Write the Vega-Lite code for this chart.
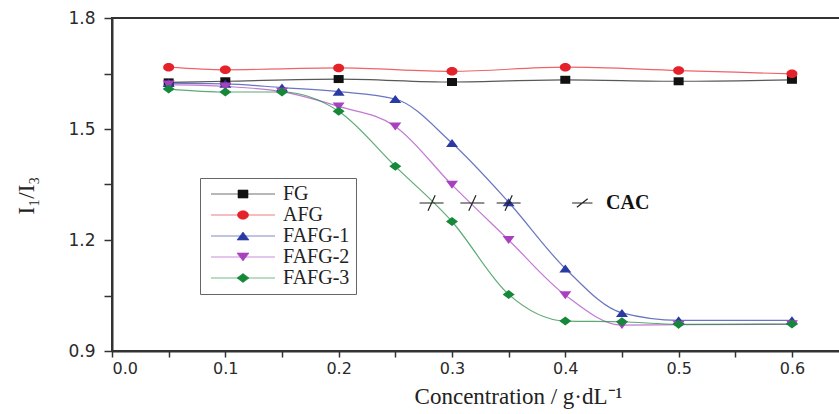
{
  "$schema": "https://vega.github.io/schema/vega-lite/v6.json",
  "width": 728,
  "height": 333,
  "autosize": {"type": "none"},
  "padding": {"left": 112, "top": 18, "right": 0, "bottom": 63},
  "background": "white",
  "config": {
    "view": {"stroke": "#333333", "strokeWidth": 2},
    "axis": {
      "grid": false,
      "domainColor": "#333333",
      "domainWidth": 2,
      "tickColor": "#333333",
      "tickWidth": 1.5,
      "labelFont": "DejaVu Sans",
      "labelFontSize": 16,
      "labelColor": "#2a2a2a",
      "titleFont": "Liberation Serif",
      "titleFontWeight": "normal",
      "titleColor": "#222222"
    }
  },
  "datasets": {
    "series": [
      {"x": 0.05, "y": 1.626, "s": "FG"},
      {"x": 0.1, "y": 1.629, "s": "FG"},
      {"x": 0.2, "y": 1.635, "s": "FG"},
      {"x": 0.3, "y": 1.627, "s": "FG"},
      {"x": 0.4, "y": 1.633, "s": "FG"},
      {"x": 0.5, "y": 1.629, "s": "FG"},
      {"x": 0.6, "y": 1.633, "s": "FG"},
      {"x": 0.05, "y": 1.667, "s": "AFG"},
      {"x": 0.1, "y": 1.66, "s": "AFG"},
      {"x": 0.2, "y": 1.665, "s": "AFG"},
      {"x": 0.3, "y": 1.656, "s": "AFG"},
      {"x": 0.4, "y": 1.667, "s": "AFG"},
      {"x": 0.5, "y": 1.658, "s": "AFG"},
      {"x": 0.6, "y": 1.649, "s": "AFG"},
      {"x": 0.05, "y": 1.624, "s": "FAFG-1"},
      {"x": 0.1, "y": 1.622, "s": "FAFG-1"},
      {"x": 0.15, "y": 1.612, "s": "FAFG-1"},
      {"x": 0.2, "y": 1.601, "s": "FAFG-1"},
      {"x": 0.25, "y": 1.581, "s": "FAFG-1"},
      {"x": 0.3, "y": 1.462, "s": "FAFG-1"},
      {"x": 0.35, "y": 1.302, "s": "FAFG-1"},
      {"x": 0.4, "y": 1.123, "s": "FAFG-1"},
      {"x": 0.45, "y": 1.003, "s": "FAFG-1"},
      {"x": 0.5, "y": 0.983, "s": "FAFG-1"},
      {"x": 0.6, "y": 0.983, "s": "FAFG-1"},
      {"x": 0.05, "y": 1.62, "s": "FAFG-2"},
      {"x": 0.1, "y": 1.615, "s": "FAFG-2"},
      {"x": 0.15, "y": 1.601, "s": "FAFG-2"},
      {"x": 0.2, "y": 1.561, "s": "FAFG-2"},
      {"x": 0.25, "y": 1.507, "s": "FAFG-2"},
      {"x": 0.3, "y": 1.349, "s": "FAFG-2"},
      {"x": 0.35, "y": 1.2, "s": "FAFG-2"},
      {"x": 0.4, "y": 1.051, "s": "FAFG-2"},
      {"x": 0.45, "y": 0.97, "s": "FAFG-2"},
      {"x": 0.5, "y": 0.971, "s": "FAFG-2"},
      {"x": 0.6, "y": 0.972, "s": "FAFG-2"},
      {"x": 0.05, "y": 1.608, "s": "FAFG-3"},
      {"x": 0.1, "y": 1.6, "s": "FAFG-3"},
      {"x": 0.15, "y": 1.6, "s": "FAFG-3"},
      {"x": 0.2, "y": 1.548, "s": "FAFG-3"},
      {"x": 0.25, "y": 1.399, "s": "FAFG-3"},
      {"x": 0.3, "y": 1.25, "s": "FAFG-3"},
      {"x": 0.35, "y": 1.053, "s": "FAFG-3"},
      {"x": 0.4, "y": 0.981, "s": "FAFG-3"},
      {"x": 0.45, "y": 0.979, "s": "FAFG-3"},
      {"x": 0.5, "y": 0.972, "s": "FAFG-3"},
      {"x": 0.6, "y": 0.973, "s": "FAFG-3"}
    ],
    "cac": [
      {"x": 0.282, "y": 1.3, "t": "mark"},
      {"x": 0.318, "y": 1.3, "t": "mark"},
      {"x": 0.35, "y": 1.3, "t": "mark"},
      {"x": 0.415, "y": 1.3, "t": "legend"}
    ],
    "cactext": [
      {"x": 0.436, "y": 1.3, "label": "CAC"}
    ]
  },
  "layer": [
    {
      "data": {"name": "series"},
      "mark": {"type": "line", "interpolate": "monotone", "strokeWidth": 1.2, "strokeOpacity": 0.7},
      "encoding": {
        "x": {"field": "x", "type": "quantitative", "scale": {"domain": [0, 0.6424], "nice": false, "zero": false},
              "axis": {"values": [0, 0.05, 0.1, 0.15, 0.2, 0.25, 0.3, 0.35, 0.4, 0.45, 0.5, 0.55, 0.6],
                       "tickSize": 6, "labelPadding": 3,
                       "labelExpr": "abs(datum.value*10 - round(datum.value*10)) > 0.01 ? '' : format(datum.value, '.1f')",
                       "title": "Concentration / g·dL⁻¹", "titleFontSize": 23,
                       "titleX": 406, "titleY": 52, "titleBaseline": "alphabetic",
                       "encode": {"ticks": {"update": {"y2": {"signal": "abs(datum.value*10 - round(datum.value*10)) > 0.01 ? 3 : 6"}}}}}},
        "y": {"field": "y", "type": "quantitative", "scale": {"domain": [0.9, 1.8], "nice": false, "zero": false},
              "axis": {"values": [0.9, 1.05, 1.2, 1.35, 1.5, 1.65, 1.8], "tickSize": 8, "labelPadding": 9,
                       "labelFontSize": 17,
                       "labelExpr": "abs(datum.value/0.3 - round(datum.value/0.3)) > 0.01 ? '' : format(datum.value, '.1f')",
                       "title": "I₁/I₃", "titleFontSize": 23, "titleAngle": -90,
                       "titleX": -86, "titleY": 177, "titleAlign": "center", "titleBaseline": "middle",
                       "encode": {"ticks": {"update": {"x2": {"signal": "abs(datum.value/0.3 - round(datum.value/0.3)) > 0.01 ? -4 : -8"}}}}}},
        "color": {"field": "s", "type": "nominal",
                  "scale": {"domain": ["FG", "AFG", "FAFG-1", "FAFG-2", "FAFG-3"],
                            "range": ["#111111", "#e5222a", "#2a3aa5", "#a840c0", "#15883a"]},
                  "legend": {
                    "title": null, "orient": "none", "legendX": 88, "legendY": 160,
                    "direction": "vertical",
                    "labelFont": "Liberation Serif", "labelFontSize": 20, "labelColor": "#222222",
                    "symbolSize": 100, "symbolOffset": 27, "labelOffset": 30, "rowPadding": 1,
                    "padding": 6, "strokeColor": "#666666", "fillColor": "white",
                    "encode": {"symbols": {"update": {
                      "shape": {"signal": "datum.value == 'FG' ? 'M-6.4,0H6.4M-1,-0.8H1V0.8H-1Z' : datum.value == 'AFG' ? 'M-6.4,0H6.4M-1.1,0A1.1,0.85 0 1,0 1.1,0A1.1,0.85 0 1,0 -1.1,0Z' : datum.value == 'FAFG-1' ? 'M-6.4,0H6.4M0,-0.8L1.2,0.8H-1.2Z' : datum.value == 'FAFG-2' ? 'M-6.4,0H6.4M0,0.8L1.2,-0.8H-1.2Z' : 'M-6.4,0H6.4M0,-0.9L1.2,0L0,0.9L-1.2,0Z'"},
                      "fill": {"signal": "scale('color', datum.value)"},
                      "stroke": {"signal": "scale('color', datum.value)"},
                      "strokeWidth": {"value": 1},
                      "strokeOpacity": {"value": 0.6},
                      "fillOpacity": {"value": 1},
                      "opacity": {"value": 1}
                    }}}
                  }},
        "detail": {"field": "s"}
      }
    },
    {
      "data": {"name": "series"},
      "mark": {"type": "point", "filled": true, "opacity": 1, "size": 100, "strokeWidth": 0},
      "encoding": {
        "x": {"field": "x", "type": "quantitative"},
        "y": {"field": "y", "type": "quantitative"},
        "color": {"field": "s", "type": "nominal"},
        "shape": {"field": "s", "type": "nominal", "legend": null,
                  "scale": {"domain": ["FG", "AFG", "FAFG-1", "FAFG-2", "FAFG-3", "mark", "legend"],
                            "range": ["M-1,-0.8H1V0.8H-1Z",
                                      "M-1.1,0A1.1,0.85 0 1,0 1.1,0A1.1,0.85 0 1,0 -1.1,0Z",
                                      "M0,-0.8L1.2,0.8H-1.2Z",
                                      "M0,0.8L1.2,-0.8H-1.2Z",
                                      "M0,-0.9L1.2,0L0,0.9L-1.2,0Z",
                                      "M-1,0H1M-0.3,0.65L0.3,-0.65",
                                      "M-0.85,0H0.85M-0.45,0.35L0.45,-0.35"]}}
      }
    },
    {
      "data": {"name": "cac"},
      "mark": {"type": "point", "filled": false, "size": 576, "stroke": "#222222", "strokeWidth": 1.2, "opacity": 1},
      "encoding": {
        "x": {"field": "x", "type": "quantitative"},
        "y": {"field": "y", "type": "quantitative"},
        "shape": {"field": "t", "type": "nominal"}
      }
    },
    {
      "data": {"name": "cactext"},
      "mark": {"type": "text", "align": "left", "baseline": "middle", "font": "Liberation Serif", "fontWeight": "bold", "fontSize": 20, "color": "#111111"},
      "encoding": {
        "x": {"field": "x", "type": "quantitative"},
        "y": {"field": "y", "type": "quantitative"},
        "text": {"field": "label"}
      }
    }
  ]
}
